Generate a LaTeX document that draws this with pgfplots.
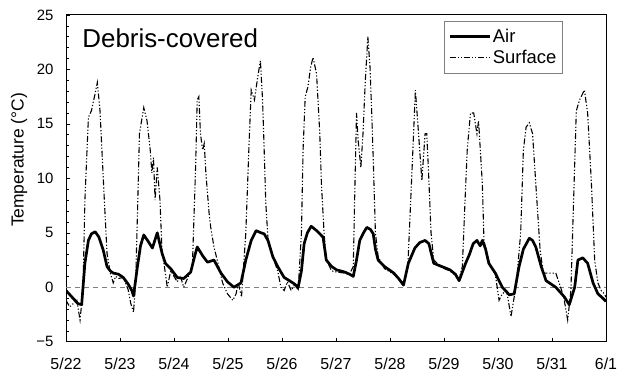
\documentclass[border=0pt]{standalone}
\usepackage{pgfplots}
\pgfplotsset{compat=1.18}
\usepackage{fontspec}
\setmainfont{Liberation Sans}
\begin{document}
\begin{tikzpicture}
\useasboundingbox (0,0) rectangle (617bp,374bp);
\begin{axis}[
  at={(66bp,32.3bp)}, anchor=south west,
  scale only axis, width=540bp, height=326.7bp,
  xmin=0, xmax=10, ymin=-5, ymax=25,
  xtick={0,1,2,3,4,5,6,7,8,9,10},
  xticklabels={5/22,5/23,5/24,5/25,5/26,5/27,5/28,5/29,5/30,5/31,6/1},
  ytick={-5,0,5,10,15,20,25},
  yticklabels={−5,0,5,10,15,20,25},
  minor y tick num=4,
  tick align=inside,
  xtick pos=bottom, ytick pos=left,
  major tick length=4bp, minor tick length=3.5bp,
  tick style={black, line width=0.6pt},
  axis line style={line width=1pt},
  xticklabel style={font=\fontsize{16}{18}\selectfont, yshift=-13bp},
  yticklabel style={font=\fontsize{15}{17}\selectfont, xshift=-9bp},
  ylabel={Temperature (°C)},
  ylabel style={font=\fontsize{17.5}{20}\selectfont, at={(rel axis cs:-0.087,0.556)}, anchor=center},
  legend style={at={(rel axis cs:0.70,0.982)}, anchor=north west, draw=gray, line width=0.5pt,
    font=\fontsize{18.5}{21}\selectfont, inner xsep=4bp, inner ysep=6bp, row sep=2bp, cells={anchor=west}},
  legend image code/.code={\draw[#1] (0bp,0bp) -- (40bp,0bp);},
]
\addplot[gray, dash pattern=on 5pt off 4pt, line width=0.6pt, forget plot] coordinates {(0,0) (10,0)};
\addplot[black, line width=2.7pt, line join=round] coordinates {
(0.00,-0.3) (0.11,-0.9) (0.22,-1.5) (0.29,-1.6) (0.35,2.2) (0.415,4.3) (0.47,4.9) (0.54,5.1) (0.61,4.6) (0.69,3.4) (0.76,1.9) (0.82,1.5) (0.875,1.3) (0.97,1.2)
(1.06,0.9) (1.15,0.3) (1.22,-0.3) (1.25,-0.8) (1.32,1.8) (1.38,3.8) (1.44,4.8) (1.51,4.3) (1.60,3.6) (1.69,5.0) (1.78,3.1) (1.84,2.2) (1.94,1.7)
(2.06,0.9) (2.18,0.8) (2.31,1.4) (2.38,2.8) (2.43,3.7) (2.53,2.9) (2.62,2.3) (2.74,2.5) (2.87,1.3) (2.99,0.5)
(3.11,0.0) (3.24,0.4) (3.33,2.5) (3.43,4.3) (3.52,5.2) (3.61,5.0) (3.67,4.9) (3.74,4.3) (3.83,2.8) (3.92,1.9)
(4.04,0.9) (4.17,0.5) (4.23,0.3) (4.30,0.0) (4.36,1.5) (4.41,4.0) (4.47,5.0) (4.54,5.6) (4.64,5.2) (4.76,4.6) (4.82,2.5) (4.92,1.9)
(5.01,1.6) (5.16,1.4) (5.25,1.2) (5.32,1.0) (5.38,2.5) (5.44,4.3) (5.51,5.0) (5.57,5.5) (5.64,5.3) (5.69,4.9) (5.73,3.5) (5.78,2.5) (5.90,1.9)
(6.07,1.3) (6.16,0.8) (6.25,0.2) (6.34,2.2) (6.46,3.6) (6.55,4.1) (6.65,4.3) (6.72,4.0) (6.81,2.2) (6.96,1.9)
(7.11,1.6) (7.21,1.2) (7.28,0.6) (7.40,2.2) (7.47,3.0) (7.54,4.0) (7.61,4.3) (7.67,3.8) (7.71,4.3) (7.77,3.5) (7.83,2.2) (7.95,1.3)
(8.08,0.0) (8.21,-0.7) (8.30,-0.6) (8.39,1.9) (8.47,3.5) (8.58,4.5) (8.64,4.3) (8.70,3.7) (8.80,1.9) (8.89,0.6) (8.98,0.3)
(9.07,0.0) (9.16,-0.5) (9.23,-0.9) (9.32,-1.6) (9.42,0.0) (9.48,2.5) (9.57,2.7) (9.66,2.2) (9.76,0.4) (9.85,-0.6) (9.94,-1.0) (10.0,-1.3)
};
\addlegendentry{Air}
\addplot[black, line width=1.1pt, dash pattern=on 6pt off 2pt on 1.2pt off 2pt on 1.2pt off 2pt] coordinates {
(0.00,-1.2) (0.07,-1.8) (0.20,-1.2) (0.26,-3.0) (0.30,-1.0) (0.32,1.0) (0.35,8.0) (0.415,15.6) (0.47,16.2) (0.54,17.8) (0.58,18.8) (0.63,16.2) (0.665,12.6) (0.71,8.0) (0.76,3.1) (0.82,1.3) (0.875,0.4) (0.92,1.0) (0.97,0.8)
(1.06,0.9) (1.15,-0.2) (1.20,-1.5) (1.25,-2.3) (1.29,0.5) (1.33,8.0) (1.36,14.1) (1.44,16.5) (1.50,15.3) (1.56,12.6) (1.59,10.5) (1.62,11.9) (1.65,8.0) (1.69,11.0) (1.74,8.0) (1.78,3.1) (1.82,2.0) (1.875,0.0) (1.94,1.5)
(2.06,0.5) (2.12,1.0) (2.18,0.0) (2.25,0.8) (2.34,1.9) (2.40,11.0) (2.43,17.2) (2.46,17.5) (2.49,14.1) (2.53,12.6) (2.56,13.2) (2.59,10.5) (2.65,6.8) (2.68,5.5) (2.74,3.7) (2.80,2.5) (2.90,0.4) (2.99,-0.6)
(3.09,-1.2) (3.15,-0.6) (3.19,0.4) (3.25,-0.9) (3.33,5.0) (3.39,13.2) (3.43,18.1) (3.49,17.2) (3.55,19.3) (3.60,20.8) (3.64,17.2) (3.67,12.6) (3.70,7.7) (3.74,4.5) (3.83,2.8) (3.92,1.5) (3.98,0.0)
(4.04,-0.3) (4.10,0.5) (4.17,-0.3) (4.23,0.2) (4.30,-0.2) (4.36,5.0) (4.39,12.6) (4.43,17.5) (4.48,18.4) (4.53,20.2) (4.575,21.1) (4.64,19.6) (4.70,14.1) (4.73,9.5) (4.78,4.9) (4.82,2.5) (4.92,1.5)
(5.01,1.4) (5.16,1.3) (5.25,1.2) (5.32,1.9) (5.35,9.2) (5.38,16.0) (5.41,13.5) (5.46,11.0) (5.50,14.1) (5.54,18.7) (5.59,23.0) (5.63,20.2) (5.66,16.2) (5.69,11.7) (5.73,5.0) (5.78,2.8) (5.90,1.7)
(6.07,1.2) (6.25,0.3) (6.33,1.9) (6.41,11.0) (6.47,18.1) (6.52,14.7) (6.56,11.9) (6.59,9.8) (6.65,14.1) (6.68,14.1) (6.71,11.0) (6.76,5.0) (6.81,2.5) (6.96,1.8)
(7.11,1.5) (7.28,0.8) (7.34,1.9) (7.39,8.0) (7.43,12.6) (7.49,16.0) (7.55,16.0) (7.61,14.1) (7.64,15.3) (7.71,9.5) (7.74,4.3) (7.83,2.3) (7.95,1.2)
(8.02,-1.2) (8.08,-0.6) (8.16,-0.3) (8.24,-2.7) (8.30,-0.9) (8.36,1.5) (8.42,5.0) (8.47,12.6) (8.52,14.7) (8.58,15.1) (8.64,14.1) (8.70,9.5) (8.78,3.4) (8.84,1.3) (8.98,1.3)
(9.07,1.3) (9.16,0.0) (9.22,-1.0) (9.29,-3.0) (9.35,-0.3) (9.40,8.0) (9.45,16.2) (9.51,17.2) (9.60,18.1) (9.66,16.0) (9.73,9.5) (9.79,2.5) (9.85,0.4) (9.91,-0.3) (9.97,-0.6) (10.0,-0.9)
};
\addlegendentry{Surface\rule[-8bp]{0pt}{8bp}}
\node[anchor=west, inner sep=0pt, font=\fontsize{26}{30}\selectfont] at (rel axis cs:0.03,0.93) {Debris-covered};
\end{axis}
\end{tikzpicture}
\end{document}
